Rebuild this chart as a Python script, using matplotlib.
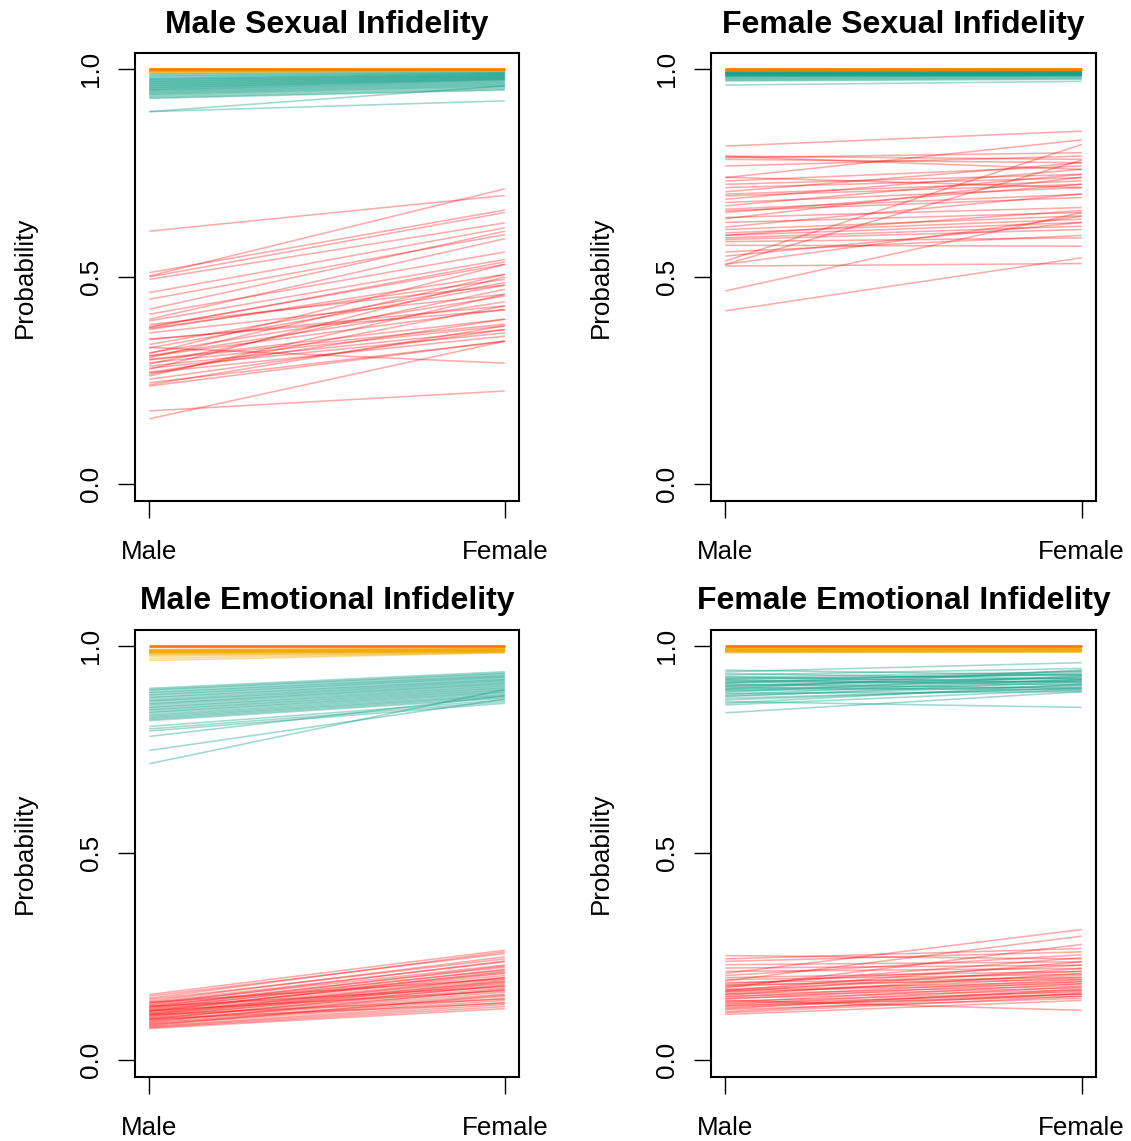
import matplotlib
matplotlib.use("Agg")
import matplotlib.pyplot as plt

plt.rcParams['font.family'] = ['Liberation Sans', 'DejaVu Sans']

# x positions / labels shared by all panels
groups = ["Male", "Female"]
y_ticks = [0.0, 0.5, 1.0]
y_tick_labels = ["0.0", "0.5", "1.0"]
titles = ["Male Sexual Infidelity", "Female Sexual Infidelity",
          "Male Emotional Infidelity", "Female Emotional Infidelity"]

# cumulative probability of the highest category
top_level = 1.0

# ---- Male Sexual Infidelity ----
msi_red_m = [0.610, 0.502, 0.510, 0.500, 0.494, 0.462, 0.446, 0.422, 0.410, 0.398,
             0.394, 0.378, 0.380, 0.373, 0.376, 0.365, 0.349, 0.337, 0.329, 0.317,
             0.315, 0.309, 0.305, 0.301, 0.300, 0.293, 0.290, 0.285, 0.280, 0.277,
             0.269, 0.265, 0.261, 0.253, 0.245, 0.240, 0.237, 0.177, 0.158, 0.330,
             0.350, 0.385, 0.310, 0.270]
msi_red_f = [0.696, 0.712, 0.661, 0.655, 0.630, 0.618, 0.602, 0.610, 0.560, 0.592,
             0.542, 0.536, 0.530, 0.506, 0.494, 0.458, 0.430, 0.486, 0.480, 0.454,
             0.530, 0.422, 0.506, 0.398, 0.386, 0.382, 0.470, 0.373, 0.365, 0.500,
             0.357, 0.430, 0.458, 0.373, 0.345, 0.382, 0.345, 0.225, 0.345, 0.292,
             0.420, 0.480, 0.440, 0.398]
msi_teal_m = [0.990, 0.988, 0.985, 0.983, 0.980, 0.978, 0.976, 0.975, 0.973, 0.971,
              0.970, 0.968, 0.966, 0.965, 0.963, 0.961, 0.960, 0.958, 0.956, 0.955,
              0.953, 0.951, 0.950, 0.948, 0.946, 0.944, 0.942, 0.940, 0.938, 0.935,
              0.932, 0.930, 0.898, 0.898]
msi_teal_f = [0.995, 0.993, 0.992, 0.991, 0.990, 0.989, 0.988, 0.987, 0.986, 0.985,
              0.984, 0.983, 0.982, 0.981, 0.980, 0.979, 0.978, 0.977, 0.976, 0.975,
              0.974, 0.972, 0.970, 0.968, 0.966, 0.964, 0.962, 0.960, 0.958, 0.955,
              0.952, 0.950, 0.960, 0.924]
msi_orange_m = [0.999, 0.998, 0.998, 0.997, 0.997, 0.996, 0.996, 0.995, 0.995, 0.994,
                0.994, 0.993, 0.999, 0.998, 0.997, 0.996]
msi_orange_f = [0.999, 0.999, 0.998, 0.998, 0.998, 0.997, 0.997, 0.997, 0.996, 0.996,
                0.996, 0.996, 0.999, 0.999, 0.998, 0.997]

# ---- Female Sexual Infidelity ----
fsi_red_m = [0.815, 0.791, 0.787, 0.783, 0.790, 0.767, 0.739, 0.731, 0.723, 0.715,
             0.699, 0.695, 0.687, 0.679, 0.671, 0.663, 0.659, 0.655, 0.643, 0.631,
             0.614, 0.606, 0.600, 0.594, 0.590, 0.585, 0.576, 0.550, 0.538, 0.530,
             0.526, 0.530, 0.466, 0.418, 0.620, 0.705, 0.740, 0.600, 0.640, 0.560]
fsi_red_f = [0.851, 0.783, 0.799, 0.775, 0.759, 0.791, 0.830, 0.767, 0.747, 0.739,
             0.731, 0.723, 0.759, 0.715, 0.747, 0.699, 0.691, 0.723, 0.667, 0.655,
             0.647, 0.639, 0.631, 0.622, 0.614, 0.594, 0.574, 0.631, 0.819, 0.646,
             0.532, 0.781, 0.655, 0.546, 0.700, 0.775, 0.715, 0.660, 0.740, 0.600]
fsi_teal_m = [0.995, 0.994, 0.993, 0.992, 0.991, 0.990, 0.990, 0.989, 0.988, 0.987,
              0.986, 0.985, 0.984, 0.983, 0.982, 0.980, 0.978, 0.976, 0.974, 0.972,
              0.962, 0.993, 0.991, 0.989, 0.987, 0.985]
fsi_teal_f = [0.996, 0.995, 0.994, 0.993, 0.993, 0.992, 0.991, 0.990, 0.990, 0.989,
              0.988, 0.987, 0.986, 0.985, 0.985, 0.984, 0.982, 0.980, 0.978, 0.976,
              0.971, 0.994, 0.992, 0.990, 0.988, 0.986]
fsi_orange_m = [0.9995, 0.9990, 0.9990, 0.9985, 0.9985, 0.9980, 0.9980, 0.9975,
                0.9975, 0.9970, 0.9990, 0.9985]
fsi_orange_f = [0.9995, 0.9995, 0.9990, 0.9990, 0.9985, 0.9985, 0.9980, 0.9980,
                0.9975, 0.9975, 0.9990, 0.9985]

# ---- Male Emotional Infidelity ----
mei_red_m = [0.159, 0.155, 0.150, 0.147, 0.143, 0.140, 0.138, 0.135, 0.133, 0.131,
             0.129, 0.127, 0.125, 0.123, 0.121, 0.119, 0.118, 0.116, 0.114, 0.112,
             0.111, 0.109, 0.107, 0.105, 0.103, 0.101, 0.099, 0.097, 0.095, 0.093,
             0.091, 0.089, 0.087, 0.085, 0.083, 0.081, 0.079, 0.077, 0.120, 0.130,
             0.110, 0.100, 0.140]
mei_red_f = [0.266, 0.258, 0.262, 0.245, 0.250, 0.238, 0.230, 0.240, 0.225, 0.218,
             0.228, 0.212, 0.220, 0.205, 0.210, 0.200, 0.215, 0.195, 0.190, 0.200,
             0.185, 0.192, 0.180, 0.188, 0.175, 0.170, 0.182, 0.165, 0.160, 0.172,
             0.155, 0.150, 0.145, 0.158, 0.140, 0.135, 0.130, 0.125, 0.168, 0.178,
             0.148, 0.138, 0.197]
mei_teal_m = [0.898, 0.895, 0.893, 0.889, 0.887, 0.883, 0.881, 0.877, 0.875, 0.871,
              0.868, 0.866, 0.862, 0.860, 0.857, 0.853, 0.851, 0.847, 0.845, 0.841,
              0.839, 0.835, 0.832, 0.829, 0.826, 0.823, 0.820, 0.806, 0.800, 0.795,
              0.782, 0.748, 0.716]
mei_teal_f = [0.938, 0.935, 0.933, 0.930, 0.928, 0.926, 0.924, 0.921, 0.919, 0.917,
              0.915, 0.912, 0.910, 0.908, 0.905, 0.903, 0.900, 0.898, 0.895, 0.893,
              0.890, 0.888, 0.885, 0.882, 0.880, 0.877, 0.874, 0.870, 0.866, 0.862,
              0.880, 0.872, 0.895]
mei_orange_m = [0.992, 0.991, 0.990, 0.989, 0.988, 0.988, 0.987, 0.986, 0.985, 0.984,
                0.983, 0.982, 0.980, 0.978, 0.975, 0.970, 0.965, 0.990, 0.987, 0.985]
mei_orange_f = [0.995, 0.994, 0.993, 0.993, 0.992, 0.991, 0.991, 0.990, 0.989, 0.989,
                0.988, 0.987, 0.987, 0.986, 0.985, 0.985, 0.984, 0.992, 0.990, 0.988]

# ---- Female Emotional Infidelity ----
fei_red_m = [0.253, 0.245, 0.239, 0.231, 0.223, 0.215, 0.210, 0.205, 0.200, 0.195,
             0.192, 0.188, 0.185, 0.182, 0.178, 0.175, 0.172, 0.170, 0.167, 0.165,
             0.162, 0.160, 0.158, 0.155, 0.153, 0.150, 0.148, 0.145, 0.143, 0.140,
             0.138, 0.135, 0.133, 0.131, 0.128, 0.125, 0.123, 0.118, 0.115, 0.111,
             0.180, 0.168]
fei_red_f = [0.245, 0.270, 0.262, 0.238, 0.230, 0.222, 0.316, 0.255, 0.215, 0.208,
             0.300, 0.200, 0.230, 0.195, 0.215, 0.280, 0.205, 0.190, 0.185, 0.222,
             0.200, 0.180, 0.210, 0.175, 0.195, 0.170, 0.190, 0.121, 0.165, 0.185,
             0.160, 0.178, 0.155, 0.168, 0.160, 0.172, 0.150, 0.162, 0.155, 0.145,
             0.248, 0.238]
fei_teal_m = [0.942, 0.938, 0.934, 0.930, 0.926, 0.924, 0.921, 0.918, 0.916, 0.913,
              0.910, 0.908, 0.905, 0.902, 0.900, 0.897, 0.894, 0.892, 0.889, 0.886,
              0.883, 0.880, 0.878, 0.874, 0.870, 0.866, 0.862, 0.858, 0.839, 0.920,
              0.912, 0.904, 0.896]
fei_teal_f = [0.930, 0.960, 0.920, 0.946, 0.912, 0.938, 0.930, 0.906, 0.922, 0.914,
              0.935, 0.898, 0.926, 0.918, 0.894, 0.942, 0.910, 0.902, 0.928, 0.890,
              0.920, 0.906, 0.915, 0.898, 0.900, 0.852, 0.908, 0.895, 0.890, 0.932,
              0.940, 0.924, 0.917]
fei_orange_m = [0.995, 0.994, 0.993, 0.992, 0.992, 0.991, 0.990, 0.990, 0.989, 0.988,
                0.988, 0.987, 0.986, 0.985, 0.984, 0.993, 0.991, 0.989]
fei_orange_f = [0.995, 0.994, 0.994, 0.993, 0.992, 0.992, 0.991, 0.990, 0.990, 0.989,
                0.988, 0.988, 0.987, 0.986, 0.985, 0.993, 0.991, 0.989]

panels = [
    (msi_red_m, msi_red_f, msi_teal_m, msi_teal_f, msi_orange_m, msi_orange_f),
    (fsi_red_m, fsi_red_f, fsi_teal_m, fsi_teal_f, fsi_orange_m, fsi_orange_f),
    (mei_red_m, mei_red_f, mei_teal_m, mei_teal_f, mei_orange_m, mei_orange_f),
    (fei_red_m, fei_red_f, fei_teal_m, fei_teal_f, fei_orange_m, fei_orange_f),
]

RED = "#FF0000"
TEAL = "#12A087"
GOLD = "#F2A900"
DARK_ORANGE = "#F08000"
RED_ALPHA = 0.33
TEAL_ALPHA = 0.4
GOLD_ALPHA = 0.4
LW = 1.15

BASE_FS = 18.7
TITLE_FS = 23

W, H = 1131, 1141
fig = plt.figure(figsize=(W / 100, H / 100), dpi=100)

# axes boxes in pixel units: left, top, right, bottom
boxes = [(135, 52.7, 519, 501), (711, 52.7, 1096, 501),
         (135, 629.5, 519, 1077), (711, 629.5, 1096, 1077)]

xs = [1, 2]
for (l, t, r, b), title, data in zip(boxes, titles, panels):
    ax = fig.add_axes([l / W, 1 - b / H, (r - l) / W, (b - t) / H])
    red_m, red_f, teal_m, teal_f, or_m, or_f = data
    for m, f in zip(red_m, red_f):
        ax.plot(xs, [m, f], color=RED, alpha=RED_ALPHA, lw=LW, solid_capstyle='butt')
    for m, f in zip(teal_m, teal_f):
        ax.plot(xs, [m, f], color=TEAL, alpha=TEAL_ALPHA, lw=LW, solid_capstyle='butt')
    for m, f in zip(or_m, or_f):
        ax.plot(xs, [m, f], color=GOLD, alpha=GOLD_ALPHA, lw=LW, solid_capstyle='butt')
    ax.plot(xs, [top_level, top_level], color=DARK_ORANGE, lw=2.0, solid_capstyle='butt')

    ax.set_xlim(0.96, 2.04)
    ax.set_ylim(-0.04, 1.04)
    ax.set_xticks(xs)
    ax.set_xticklabels(groups, fontsize=BASE_FS)
    ax.set_yticks(y_ticks)
    ax.set_yticklabels(y_tick_labels, fontsize=BASE_FS, rotation=90, va='center')
    ax.tick_params(axis='both', direction='out', length=12, width=1.0, color='black')
    ax.tick_params(axis='x', pad=16)
    ax.tick_params(axis='y', pad=11)
    for sp in ax.spines.values():
        sp.set_linewidth(1.5)
        sp.set_color('black')
    ax.set_title(title, fontsize=TITLE_FS, fontweight='bold', pad=14.5)
    ax.set_ylabel("Probability", fontsize=BASE_FS)
    ax.yaxis.set_label_coords((37 - 135) / (r - l), 0.5)

fig.savefig("out.png", dpi=100)
